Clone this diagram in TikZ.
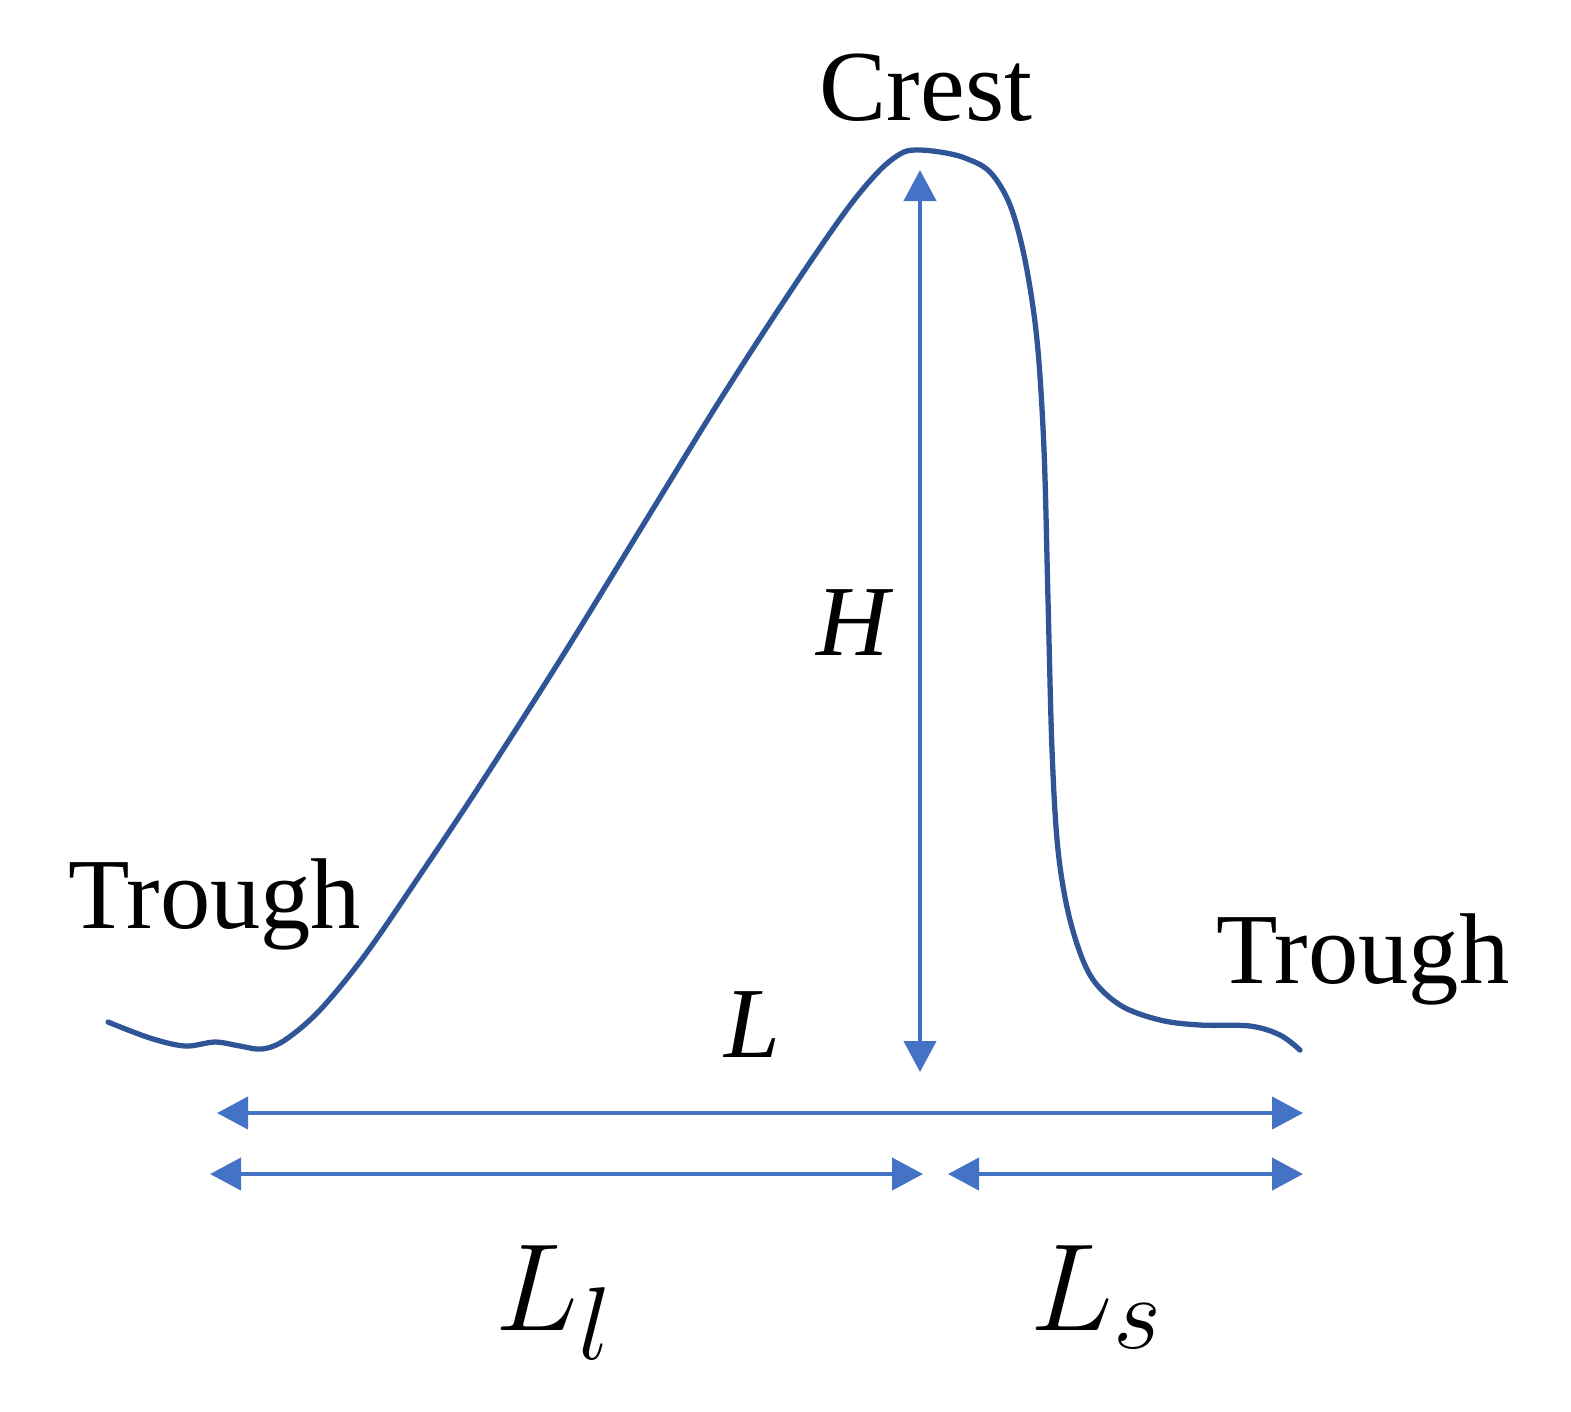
\documentclass[tikz,border=0pt]{standalone}
\usepackage{fontspec}
\setmainfont{Liberation Serif}
\usetikzlibrary{arrows.meta}
\definecolor{curveblue}{HTML}{2F5597}
\definecolor{arrowblue}{HTML}{4472C4}
\tikzset{
  dim/.style={draw=arrowblue, line width=1.2pt, {Triangle[length=0.31cm,width=0.32cm]}-{Triangle[length=0.31cm,width=0.32cm]}},
  lbl/.style={font=\fontsize{28.6}{30}\selectfont, inner sep=0pt},
  bigmath/.style={font=\fontsize{24.88}{28}\selectfont, inner sep=0pt}
}
\begin{document}
\begin{tikzpicture}[x=0.01cm,y=-0.01cm]
\useasboundingbox (0,0) rectangle (1571,1411);
\draw[curveblue, line width=1.5pt, line cap=round] plot[smooth, tension=0.55] coordinates {
(108,1022) (150,1038) (185,1046) (215,1042) (240,1046) (262,1049) (285,1040) (320,1010) (365,955) (420,875) (480,785) (560,660) (640,530) (720,400) (790,292) (845,212) (878,172) (900,154) (915,150) (940,152) (965,158) (990,172) (1010,205) (1025,260) (1037,340) (1044,450) (1048,600) (1052,750) (1058,850) (1070,920) (1090,975) (1120,1005) (1160,1020) (1200,1025) (1250,1026) (1280,1035) (1300,1050)};
\coordinate (htop) at (920,170);
\coordinate (hbot) at (920,1072);
\coordinate (la) at (217,1113);
\coordinate (lb) at (1303,1113);
\coordinate (lla) at (210,1174);
\coordinate (llb) at (923,1174);
\coordinate (lsa) at (948,1174);
\coordinate (lsb) at (1303,1174);
\draw[dim] (htop) -- (hbot);
\draw[dim] (la) -- (lb);
\draw[dim] (lla) -- (llb);
\draw[dim] (lsa) -- (lsb);
\node[lbl, anchor=base] (crest) at (926,120) {Crest};
\node[lbl, anchor=base west] (trl) at (68,928) {Trough};
\node[lbl, anchor=base west] (trr) at (1216,983) {Trough};
\node[lbl, anchor=base] (hl) at (855,655) {\textit{H}};
\node[lbl, anchor=base] (ll) at (752,1057) {\textit{L}};
\node[bigmath, anchor=base west] (lll) at (495,1330) {\scalebox{1.42}{$L_l$}};
\node[bigmath, anchor=base west] (lls) at (1030,1330) {\scalebox{1.42}{$L_s$}};
\end{tikzpicture}
\end{document}
